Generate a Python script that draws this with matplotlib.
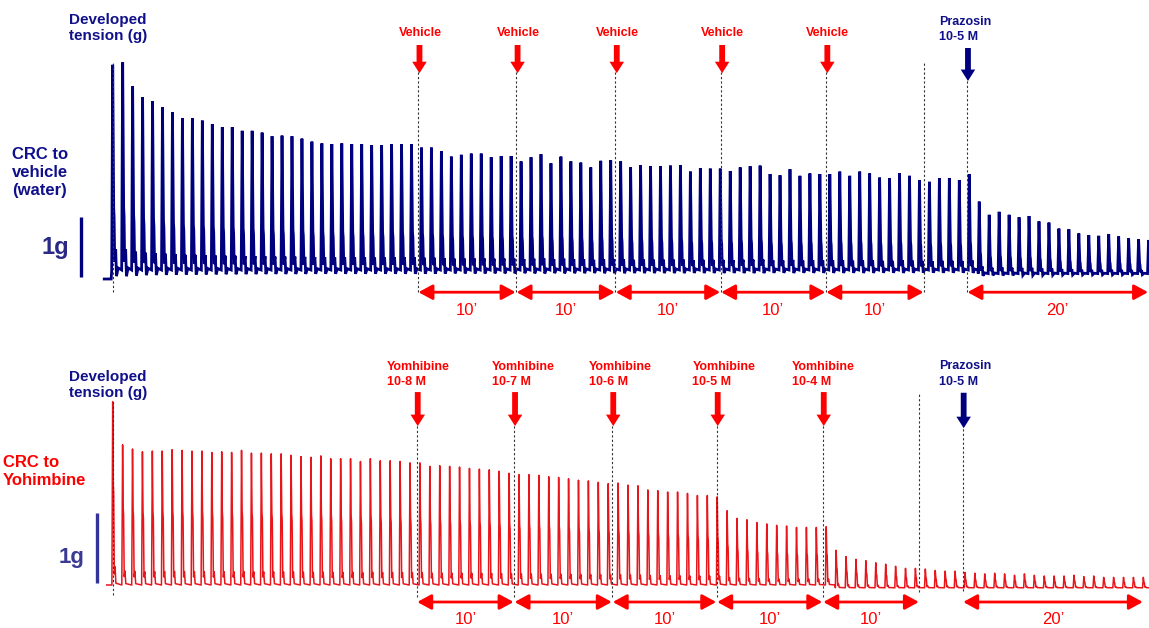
import matplotlib
matplotlib.use('Agg')
import matplotlib.pyplot as plt

# peak developed tension of each beat (g), one beat per minute
top_peaks = [3.42, 3.46, 3.06, 2.88, 2.81, 2.71, 2.63, 2.53, 2.53, 2.49,
             2.43, 2.38, 2.38, 2.32, 2.32, 2.29, 2.23, 2.24, 2.23, 2.19,
             2.14, 2.11, 2.10, 2.11, 2.10, 2.10, 2.08, 2.08, 2.10, 2.10,
             2.10, 2.04, 2.04, 1.98, 1.89, 1.92, 1.94, 1.94, 1.88, 1.90,
             1.90, 1.81, 1.88, 1.93, 1.78, 1.89, 1.81, 1.79, 1.71, 1.82,
             1.83, 1.81, 1.71, 1.75, 1.73, 1.73, 1.74, 1.75, 1.64, 1.70,
             1.69, 1.69, 1.65, 1.71, 1.73, 1.74, 1.60, 1.58, 1.68, 1.57,
             1.61, 1.60, 1.60, 1.64, 1.57, 1.64, 1.61, 1.54, 1.53, 1.61,
             1.57, 1.50, 1.47, 1.53, 1.53, 1.50, 1.60, 1.14, 0.92, 0.97,
             0.92, 0.88, 0.90, 0.81, 0.79, 0.69, 0.68, 0.61, 0.58, 0.57,
             0.60, 0.56, 0.53, 0.51, 0.50]
bottom_peaks = [2.64, 2.02, 1.96, 1.92, 1.93, 1.93, 1.95, 1.94, 1.93, 1.93,
                1.91, 1.92, 1.91, 1.94, 1.90, 1.90, 1.89, 1.89, 1.87, 1.85,
                1.84, 1.86, 1.82, 1.82, 1.82, 1.78, 1.82, 1.79, 1.79, 1.78,
                1.76, 1.76, 1.71, 1.72, 1.71, 1.70, 1.68, 1.67, 1.66, 1.64,
                1.61, 1.59, 1.59, 1.58, 1.56, 1.55, 1.53, 1.51, 1.50, 1.48,
                1.46, 1.47, 1.44, 1.43, 1.37, 1.36, 1.34, 1.34, 1.32, 1.29,
                1.29, 1.27, 1.07, 0.96, 0.94, 0.90, 0.88, 0.86, 0.85, 0.83,
                0.83, 0.83, 0.84, 0.50, 0.41, 0.37, 0.35, 0.32, 0.30, 0.27,
                0.24, 0.24, 0.23, 0.21, 0.20, 0.20, 0.18, 0.17, 0.16, 0.17,
                0.16, 0.14, 0.16, 0.14, 0.13, 0.13, 0.13, 0.14, 0.12, 0.13,
                0.11, 0.11, 0.11, 0.11, 0.11]

# baseline level (g) from a given beat on
top_baseline = [(0, 0.0), (87, -0.06)]
bottom_baseline = [(0, 0.0), (73, -0.04)]
top_lead = -0.15

# additions (beat number)
top_events = [30.65, 40.5, 50.46, 61.04, 71.6]
top_end = 81.45
top_prazosin = 85.77
bottom_events = [30.68, 40.5, 50.41, 60.95, 71.65]
bottom_end = 81.4
bottom_prazosin = 85.77
trace_end = 104.0

top_labels = ['Vehicle'] * 5
bottom_labels = ['Yomhibine\n10-8 M', 'Yomhibine\n10-7 M', 'Yomhibine\n10-6 M',
                 'Yomhibine\n10-5 M', 'Yomhibine\n10-4 M']
span_labels = ['10\u2019'] * 5 + ['20\u2019']

NAVY = '#00007f'
TXT_NAVY = '#10108a'
RED = '#ff0000'
TRACE_RED = '#e8151b'
FONT = ['Liberation Sans', 'DejaVu Sans']


def level(steps, i):
    b = steps[0][1]
    for start, v in steps:
        if i >= start:
            b = v
    return b


def build_trace(peaks, steps, shape_t, shape_f, t0, y0):
    ts = [t0, shape_t[0] - 0.05]
    ys = [y0, y0]
    for i, p in enumerate(peaks):
        b = level(steps, i)
        for dt, f in zip(shape_t, shape_f):
            ts.append(i + dt)
            ys.append(b + f * (p - b))
    return ts, ys


def drop_arrow(ax, x, y_top, y_tip, color):
    ax.annotate('', xy=(x, y_tip), xytext=(x, y_top),
                arrowprops=dict(arrowstyle='simple,head_width=0.95,head_length=0.75,tail_width=0.38',
                                color=color, mutation_scale=11, shrinkA=0, shrinkB=0, lw=0))


def span_arrow(ax, a, b, y):
    ax.annotate('', xy=(b, y), xytext=(a, y),
                arrowprops=dict(arrowstyle='<|-|>,head_length=0.7,head_width=0.38',
                                color=RED, lw=2, mutation_scale=12, shrinkA=0, shrinkB=0))


def vline(ax, x, y0, y1):
    ax.plot([x, x], [y0, y1], ls=(0, (2, 2)), color='#333333', lw=0.8)


fig = plt.figure(figsize=(11.49, 6.28), dpi=100)
ax1 = fig.add_axes([0, 1 - 320 / 628, 1, 320 / 628])
ax2 = fig.add_axes([0, 0, 1, 298 / 628])
for ax in (ax1, ax2):
    ax.axis('off')
ax1.set_xlim(-112.7 / 9.96, 1036.3 / 9.96)
ax1.set_ylim(-50 / 60, 270 / 60)
ax2.set_xlim(-112.7 / 9.91, 1036.3 / 9.91)
ax2.set_ylim(-43 / 69.4, 255 / 69.4)

# ---- top: vehicle ----
t, y = build_trace(top_peaks, top_baseline,
                   [-0.1, 0.0, 0.1, 0.14, 0.2, 0.3, 0.38, 0.55, 0.88],
                   [0, 1, 0.3, 0.26, 0.04, 0.1, -0.03, 0.01, 0],
                   -0.85, top_lead)
ax1.plot(t, y, color=NAVY, lw=2.0, solid_joinstyle='miter')

vline(ax1, 0, -0.37, 3.47)
for x in top_events:
    vline(ax1, x, -0.37, 3.3)
vline(ax1, top_end, -0.37, 3.47)
vline(ax1, top_prazosin, -0.37, 3.17)

for x, lab in zip(top_events, top_labels):
    drop_arrow(ax1, x + 0.15, 3.75, 3.28, RED)
    ax1.text(x + 0.2, 3.95, lab, color=RED, fontsize=9, fontweight='bold',
             family=FONT, ha='center', va='center')
drop_arrow(ax1, top_prazosin + 0.1, 3.7, 3.15, NAVY)
ax1.text(83.0, 4.01, 'Prazosin\n10-5 M', color=TXT_NAVY, fontsize=9, fontweight='bold',
         family=FONT, ha='left', va='center', linespacing=1.35)

bounds = top_events + [top_end]
spans = list(zip(bounds[:-1], bounds[1:])) + [(top_prazosin, trace_end)]
for (a, b), lab in zip(spans, span_labels):
    span_arrow(ax1, a + 0.05, b - 0.05, -0.37)
    ax1.text((a + b) / 2, -0.68, lab, color=RED, fontsize=12, family=FONT,
             ha='center', va='center')

ax1.text(-4.4, 4.03, 'Developed\ntension (g)', color=TXT_NAVY, fontsize=11,
         fontweight='bold', family=FONT, ha='left', va='center', linespacing=1.15)
ax1.text(-10.1, 1.62, 'CRC to\nvehicle\n(water)', color=TXT_NAVY, fontsize=12,
         fontweight='bold', family=FONT, ha='left', va='center', linespacing=1.25)
ax1.text(-5.8, 0.37, '1g', color='#2a2a85', fontsize=17, fontweight='bold',
         family=FONT, ha='center', va='center')
ax1.plot([-3.21, -3.21], [-0.117, 0.883], color=NAVY, lw=2.4, solid_capstyle='butt')

# ---- bottom: yohimbine ----
t, y = build_trace(bottom_peaks, bottom_baseline,
                   [-0.08, 0.0, 0.06, 0.1, 0.16, 0.24, 0.32, 0.9],
                   [0, 1, 0.55, 0.5, 0.06, 0.1, 0.01, 0],
                   -0.6, 0.0)
ax2.plot(t, y, color=TRACE_RED, lw=1.1)

vline(ax2, 0, -0.144, 2.65)
for x in bottom_events:
    vline(ax2, x, -0.17, 2.31)
vline(ax2, bottom_end, -0.1, 2.78)
vline(ax2, bottom_prazosin, -0.08, 2.28)

label_offsets = [-3.05, -2.2, -2.35, -2.45, -3.1]
for x, lab, off in zip(bottom_events, bottom_labels, label_offsets):
    drop_arrow(ax2, x + 0.1, 2.78, 2.29, RED)
    ax2.text(x + off, 3.03, lab, color=RED, fontsize=9, fontweight='bold',
             family=FONT, ha='left', va='center', linespacing=1.35)
drop_arrow(ax2, bottom_prazosin + 0.1, 2.77, 2.26, NAVY)
ax2.text(83.4, 3.04, 'Prazosin\n10-5 M', color=TXT_NAVY, fontsize=9, fontweight='bold',
         family=FONT, ha='left', va='center', linespacing=1.35)

bounds = bottom_events + [bottom_end]
spans = list(zip(bounds[:-1], bounds[1:])) + [(bottom_prazosin, trace_end)]
for (a, b), lab in zip(spans, span_labels):
    span_arrow(ax2, a + 0.05, b - 0.05, -0.245)
    ax2.text((a + b) / 2, -0.5, lab, color=RED, fontsize=12, family=FONT,
             ha='center', va='center')

ax2.text(-4.4, 2.88, 'Developed\ntension (g)', color=TXT_NAVY, fontsize=11,
         fontweight='bold', family=FONT, ha='left', va='center', linespacing=1.15)
ax2.text(-11.07, 1.63, 'CRC to\nYohimbine', color=RED, fontsize=12,
         fontweight='bold', family=FONT, ha='left', va='center', linespacing=1.25)
ax2.text(-4.14, 0.40, '1g', color='#3a3a95', fontsize=16, fontweight='bold',
         family=FONT, ha='center', va='center')
ax2.plot([-1.61, -1.61], [0.033, 1.033], color='#333399', lw=2.4, solid_capstyle='butt')

fig.savefig('out.png', dpi=100)
